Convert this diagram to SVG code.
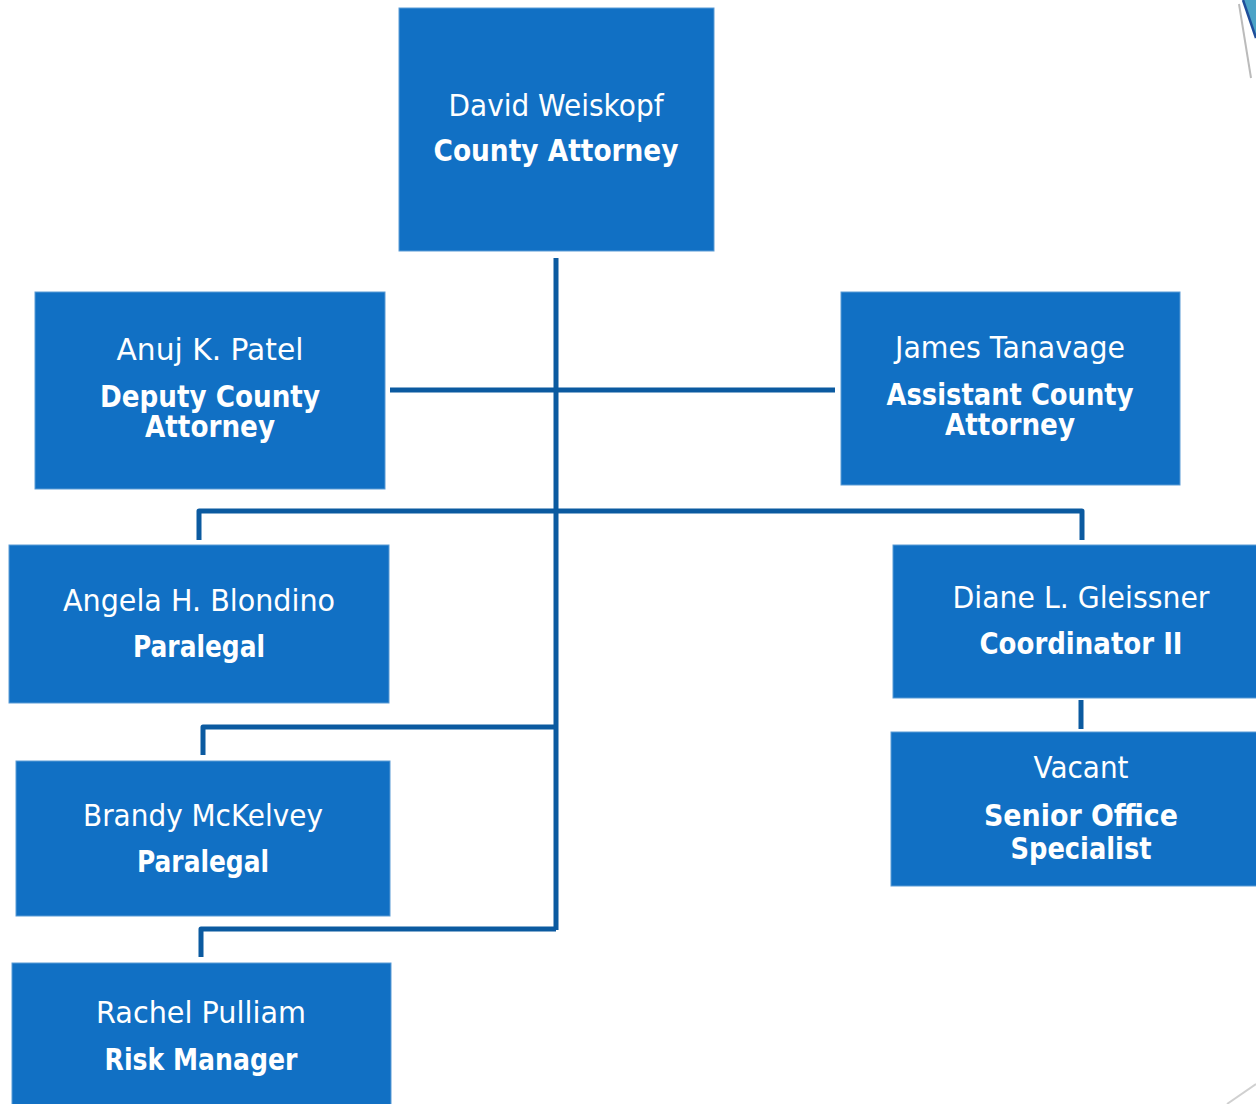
<svg xmlns="http://www.w3.org/2000/svg" width="1256" height="1104" viewBox="0 0 1256 1104">
<style>
.box{fill:#1170C4;stroke:#5B9BD5;stroke-width:1}
.conn{fill:none;stroke:#0B5AA0;stroke-width:5;stroke-linejoin:round}
text{font-family:"DejaVu Sans","Liberation Sans",sans-serif;font-size:30px;fill:#ffffff;text-anchor:middle}
.n{font-weight:normal}
.t{font-weight:bold}
</style>
<rect width="1256" height="1104" fill="#ffffff"/>
<g id="decor">
<path d="M1243,0 L1256,0 L1256,38 Z" fill="#4BA3C7"/>
<path d="M1243,0 L1256,38" stroke="#1F4E9A" stroke-width="2.5" fill="none"/>
<path d="M1239,4 L1251,78" stroke="#BBBBBB" stroke-width="2" fill="none"/>
<path d="M1227,1104 L1256,1084" stroke="#D0D0D0" stroke-width="2" fill="none"/>
</g>
<g id="connectors">
<path class="conn" d="M556,258 V930"/>
<path class="conn" d="M390,390 H835"/>
<path class="conn" d="M199,540 V511 H1082 V540"/>
<path class="conn" d="M203,755 V727 H556"/>
<path class="conn" d="M201,957 V929 H556"/>
<path class="conn" d="M1081,700 V729"/>
</g>
<g id="david">
<rect class="box" x="399" y="8" width="315" height="243"/>
<text class="n" x="556" y="116" textLength="215" lengthAdjust="spacingAndGlyphs">David Weiskopf</text>
<text class="t" x="556" y="161" textLength="245" lengthAdjust="spacingAndGlyphs">County Attorney</text>
</g>
<g id="anuj">
<rect class="box" x="35" y="292" width="350" height="197"/>
<text class="n" x="210" y="360" textLength="187" lengthAdjust="spacingAndGlyphs">Anuj K. Patel</text>
<text class="t" x="210" y="407" textLength="220" lengthAdjust="spacingAndGlyphs">Deputy County</text>
<text class="t" x="210" y="437" textLength="130" lengthAdjust="spacingAndGlyphs">Attorney</text>
</g>
<g id="james">
<rect class="box" x="841" y="292" width="339" height="193"/>
<text class="n" x="1010" y="358" textLength="230" lengthAdjust="spacingAndGlyphs">James Tanavage</text>
<text class="t" x="1010" y="405" textLength="247" lengthAdjust="spacingAndGlyphs">Assistant County</text>
<text class="t" x="1010" y="435" textLength="130" lengthAdjust="spacingAndGlyphs">Attorney</text>
</g>
<g id="angela">
<rect class="box" x="9" y="545" width="380" height="158"/>
<text class="n" x="199" y="611" textLength="272" lengthAdjust="spacingAndGlyphs">Angela H. Blondino</text>
<text class="t" x="199" y="657" textLength="132" lengthAdjust="spacingAndGlyphs">Paralegal</text>
</g>
<g id="diane">
<rect class="box" x="893" y="545" width="365" height="153"/>
<text class="n" x="1081" y="608" textLength="257" lengthAdjust="spacingAndGlyphs">Diane L. Gleissner</text>
<text class="t" x="1081" y="654" textLength="203" lengthAdjust="spacingAndGlyphs">Coordinator II</text>
</g>
<g id="vacant">
<rect class="box" x="891" y="732" width="367" height="154"/>
<text class="n" x="1081" y="778" textLength="95" lengthAdjust="spacingAndGlyphs">Vacant</text>
<text class="t" x="1081" y="826" textLength="194" lengthAdjust="spacingAndGlyphs">Senior Office</text>
<text class="t" x="1081" y="859" textLength="141" lengthAdjust="spacingAndGlyphs">Specialist</text>
</g>
<g id="brandy">
<rect class="box" x="16" y="761" width="374" height="155"/>
<text class="n" x="203" y="826" textLength="240" lengthAdjust="spacingAndGlyphs">Brandy McKelvey</text>
<text class="t" x="203" y="872" textLength="132" lengthAdjust="spacingAndGlyphs">Paralegal</text>
</g>
<g id="rachel">
<rect class="box" x="12" y="963" width="379" height="145"/>
<text class="n" x="201" y="1023" textLength="210" lengthAdjust="spacingAndGlyphs">Rachel Pulliam</text>
<text class="t" x="201" y="1070" textLength="193" lengthAdjust="spacingAndGlyphs">Risk Manager</text>
</g>
</svg>
